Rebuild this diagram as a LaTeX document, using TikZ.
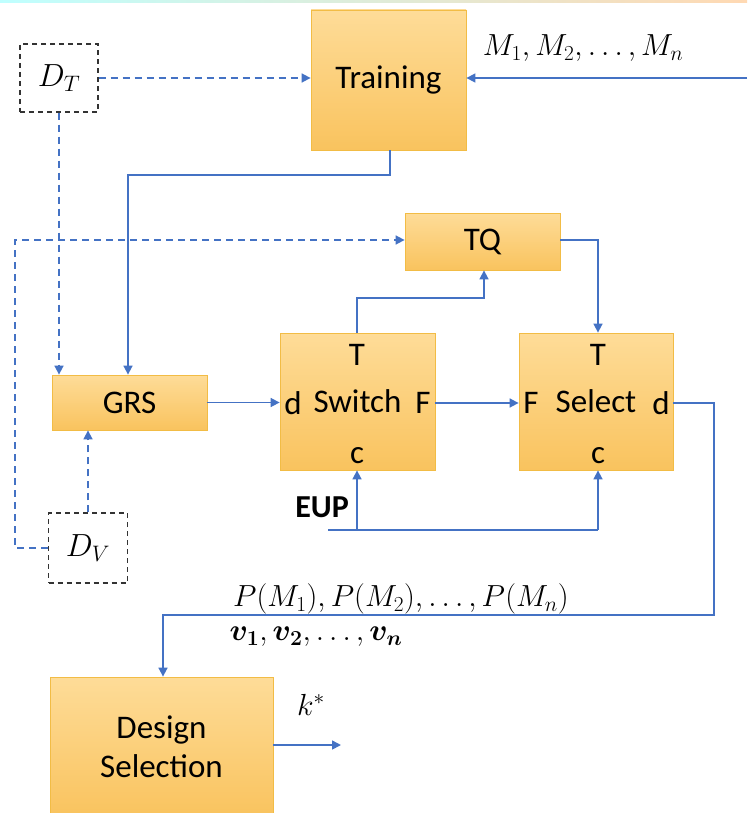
\RequirePackage{fix-cm}
\documentclass[tikz,border=0pt]{standalone}
\usepackage{fontspec}
\setmainfont{Carlito}
\usepackage{amsmath}
\usepackage{bm}
\usetikzlibrary{arrows.meta}
\definecolor{lnblue}{HTML}{4472C4}
\definecolor{boxtop}{HTML}{FEDC98}
\definecolor{boxbot}{HTML}{F9C35E}
\definecolor{boxedge}{HTML}{F2BC45}
\tikzset{
  blk/.style={draw=boxedge, line width=0.8pt, top color=boxtop, bottom color=boxbot,
    inner sep=0pt, font=\fontsize{33}{39}\selectfont, align=center},
  databox/.style={draw=black!80, dashed, dash pattern=on 5pt off 4pt, line width=1.3pt,
    inner sep=0pt, font=\fontsize{32}{36}\selectfont},
  conn/.style={draw=lnblue, line width=1.6pt, -{Triangle[length=9pt,width=9pt]}},
  plain/.style={draw=lnblue, line width=1.6pt},
  dconn/.style={conn, dash pattern=on 7pt off 5pt},
  port/.style={font=\fontsize{33}{39}\selectfont, inner sep=0pt},
  lbl/.style={font=\fontsize{30.5}{36}\selectfont, inner sep=0pt},
}
\begin{document}
\begin{tikzpicture}[x=1pt,y=-1pt]
\useasboundingbox (0,0) rectangle (747,813);
% thin header strip
\shade[left color=cyan!25!white, right color=orange!30!white] (0,0) rectangle (747,3);

% blocks
\node[blk, minimum width=155pt, minimum height=140pt] (train) at (388.5,80) {Training};
\node[databox, minimum width=78pt, minimum height=68pt] (dt) at (59,78) {$D_T$};
\node[blk, minimum width=155pt, minimum height=57pt] (tq) at (482.5,241.5) {TQ};
\node[blk, minimum width=155pt, minimum height=55pt] (grs) at (129.5,402.5) {GRS};
\node[blk, minimum width=155pt, minimum height=137pt] (sw) at (357.5,401.5) {Switch};
\node[blk, minimum width=154pt, minimum height=137pt] (sel) at (596,401.5) {Select};
\node[databox, minimum width=79pt, minimum height=70pt] (dv) at (88,548) {$D_V$};
\node[blk, minimum width=223pt, minimum height=140pt] (ds) at (161.5,747) {Design\\Selection};

% port labels
\node[port] (swT) at (357,355) {T};
\node[port] (swd) at (293,403) {d};
\node[port] (swF) at (423,403) {F};
\node[port] (swc) at (357,456) {c};
\node[port] (seT) at (598,355) {T};
\node[port] (seF) at (531,403) {F};
\node[port] (sed) at (661,403) {d};
\node[port] (sec) at (598,456) {c};

% text labels
\node[lbl] (mlab) at (583,48) {$M_1, M_2, \ldots, M_n$};
\node[lbl, font=\fontsize{32}{38}\selectfont\bfseries, anchor=east] (eup) at (349,507) {EUP};
\node[lbl] (plab) at (401,599) {$P(M_1), P(M_2), \ldots, P(M_n)$};
\node[lbl] (vlab) at (316,637) {$\bm{v_1}, \bm{v_2}, \ldots, \bm{v_n}$};
\node[lbl] (klab) at (311,705) {$k^*$};

% free ends
\coordinate (min) at (747,78);
\coordinate (eupin) at (328,530);
\coordinate (kout) at (341,745);

% training inputs
\draw[dconn] (dt.east) -- (dt.east -| train.west);
\draw[conn] (min) -- (min -| train.east);
% training to GRS
\draw[conn] (train.south -| 390,0) -- (390,175) -- (128,175) -- (grs.north -| 128,0);
% data sets
\draw[dconn] (dt.south) -- (grs.north -| dt.south);
\draw[dconn] (dv.north) -- (grs.south -| dv.north);
\draw[dconn] (dv.west) -- (15,548) -- (15,240) -- (tq.west |- 0,240);
% GRS to switch
\draw[conn] (grs.east) -- (sw.west |- grs.east);
% switch, TQ, select
\draw[conn] (sw.north -| 357,0) -- (357,298) -- (484,298) -- (tq.south -| 484,0);
\draw[conn] (tq.east |- 0,240) -- (598,240) -- (sel.north -| 598,0);
\draw[conn] (sw.east |- 0,403) -- (sel.west |- 0,403);
% EUP control
\draw[plain] (eupin) -- (598,530);
\draw[conn] (598,530) -- (sel.south -| 598,0);
\draw[conn] (357,530) -- (sw.south -| 357,0);
% select to design selection
\draw[conn] (sel.east |- 0,403) -- (714,403) -- (714,615) -- (163,615) -- (ds.north -| 163,0);
% output
\draw[conn] (ds.east |- kout) -- (kout);
\end{tikzpicture}
\end{document}
